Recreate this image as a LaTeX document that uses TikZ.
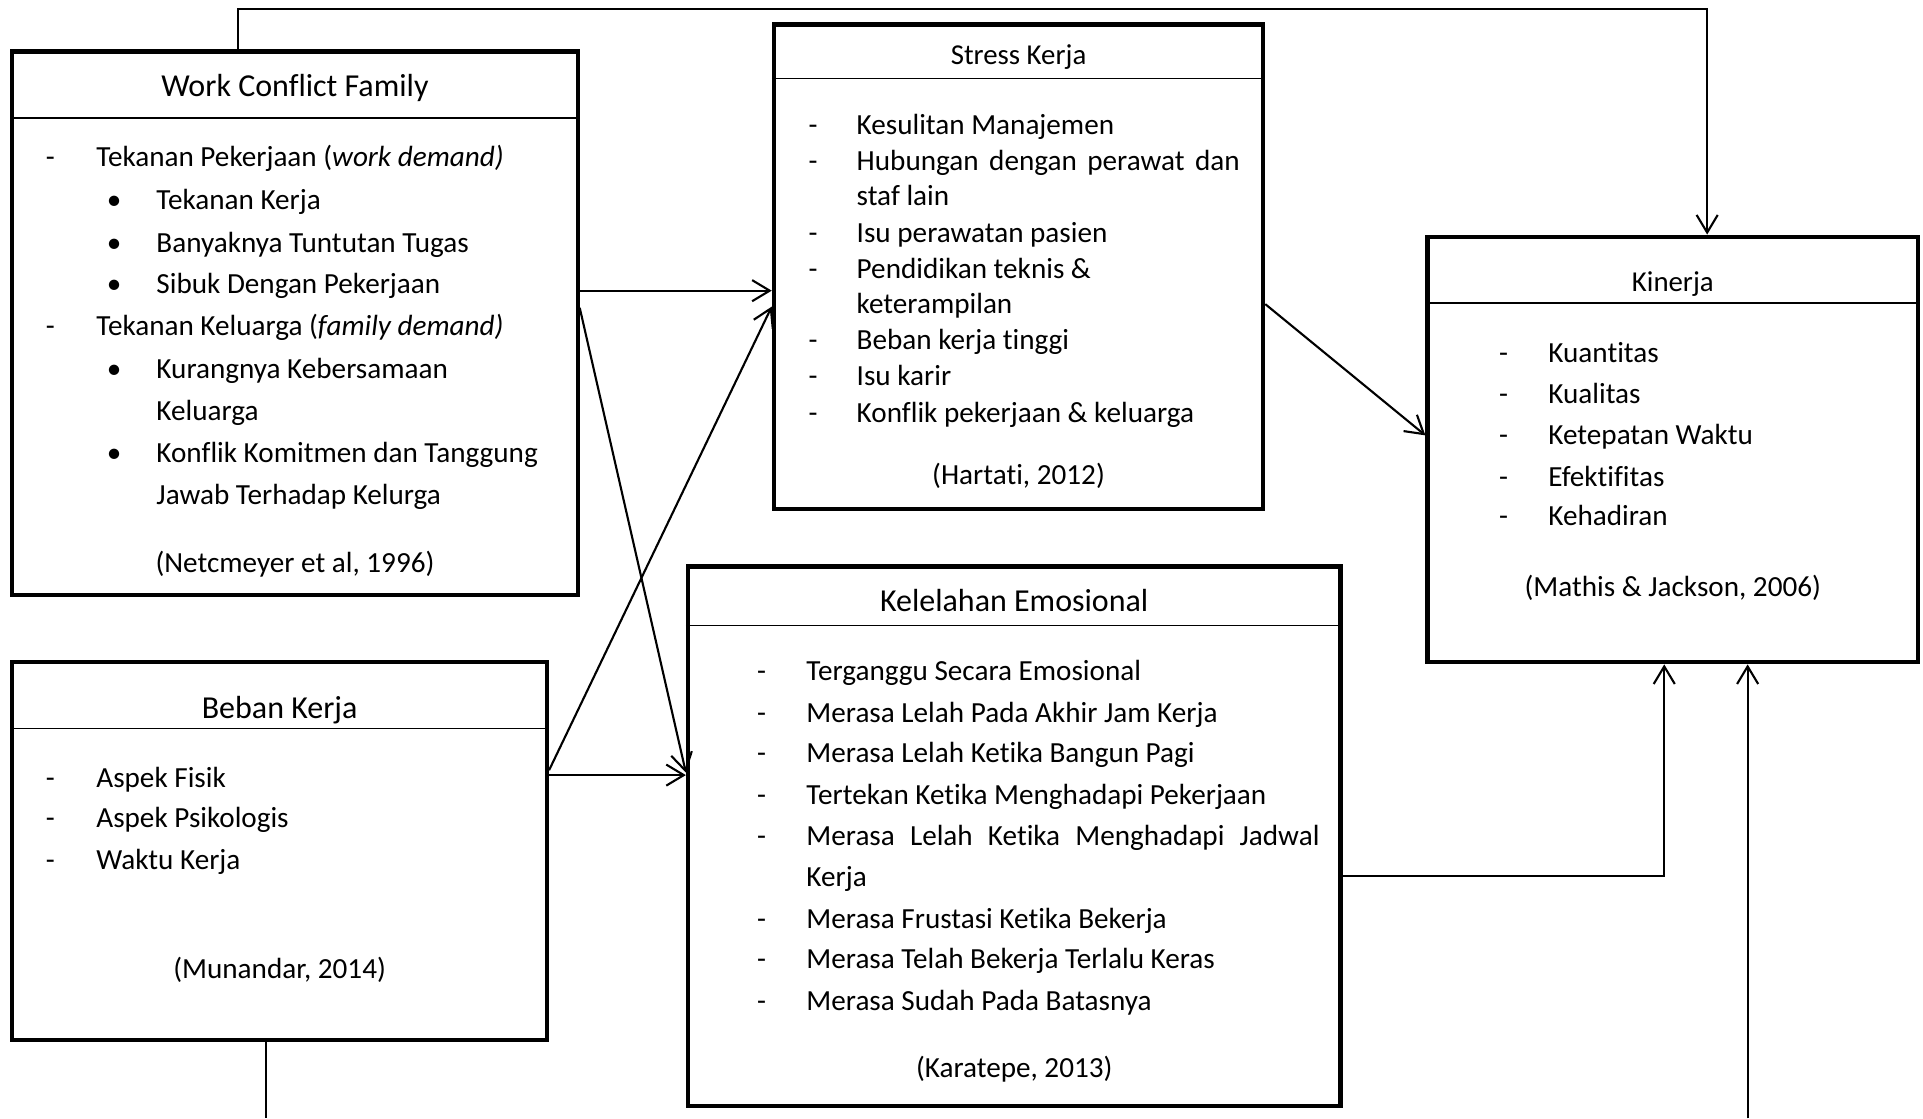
\documentclass[tikz,border=0pt]{standalone}
\usepackage{fontspec}
\setmainfont{Carlito}[Ligatures={NoCommon}]
\usepackage{tikz}
\usetikzlibrary{arrows.meta,fit,positioning}
\tikzstyle{kotak}=[draw, line width=1.2pt, inner sep=0pt]
\tikzstyle{garis}=[line width=0.45pt]
\tikzstyle{hubung}=[line width=0.6pt]
\tikzstyle{panah}=[line width=0.6pt, -{Straight Barb[length=5pt,width=6pt]}]
\tikzstyle{judul}=[font=\fontsize{9.1}{11}\selectfont, anchor=base, inner sep=0pt, yshift=-0.6pt]
\tikzstyle{judulkecil}=[font=\fontsize{8.2}{10}\selectfont, anchor=base, inner sep=0pt, yshift=-0.6pt]
\tikzstyle{isi}=[font=\fontsize{8.3}{10}\selectfont, anchor=base west, inner sep=0pt, yshift=-0.6pt]
\tikzstyle{tanda}=[font=\fontsize{8.3}{10}\selectfont, anchor=base, inner sep=0pt, yshift=-0.6pt]
\tikzstyle{sumber}=[font=\fontsize{8.3}{10}\selectfont, anchor=base, inner sep=0pt, yshift=-0.6pt]
% #1 name, #2 mark x, #3 text x, #4 baseline y, #5 text
\newcommand{\butir}[5]{
	\node[tanda] (#1-d) at (#2,#4) {-};
	\node[isi] (#1) at (#3,#4) {#5};
}
\newcommand{\bulet}[5]{
	\node[tanda] (#1-d) at (#2,#4) {\textbullet};
	\node[isi] (#1) at (#3,#4) {#5};
}

\begin{document}
\begin{tikzpicture}[x=0.12264mm, y=-0.12264mm]
	\useasboundingbox (0,0) rectangle (1568,912);

	% Work Conflict Family
	\node[kotak, fit={(10,42) (471,485)}] (wcf) {};
	\draw[garis] (wcf.west |- 0,96) -- (wcf.east |- 0,96);
	\node[judul] (wcf-t) at (wcf.center |- 0,77) {Work Conflict Family};
	\butir{wcf1}{41}{78}{134}{Tekanan Pekerjaan (\textit{work demand)}}
	\bulet{wcf2}{93}{127}{169}{Tekanan Kerja}
	\bulet{wcf3}{93}{127}{204}{Banyaknya Tuntutan Tugas}
	\bulet{wcf4}{93}{127}{238}{Sibuk Dengan Pekerjaan}
	\butir{wcf5}{41}{78}{272}{Tekanan Keluarga (\textit{family demand)}}
	\bulet{wcf6}{93}{127}{307}{Kurangnya Kebersamaan}
	\node[isi] (wcf7) at (127,341) {Keluarga};
	\bulet{wcf8}{93}{127}{375}{Konflik Komitmen dan Tanggung}
	\node[isi] (wcf9) at (127,410) {Jawab Terhadap Kelurga};
	\node[sumber] (wcf-s) at (wcf.center |- 0,465) {(Netcmeyer et al, 1996)};

	% Stress Kerja
	\node[kotak, fit={(631,20) (1030,415)}] (sk) {};
	\draw[garis] (sk.west |- 0,64) -- (sk.east |- 0,64);
	\node[judulkecil] (sk-t) at (sk.center |- 0,51) {Stress Kerja};
	\butir{sk1}{663}{698}{108}{Kesulitan Manajemen}
	\butir{sk2}{663}{698}{137}{\makebox[38.3mm][s]{Hubungan dengan perawat dan}}
	\node[isi] (sk3) at (698,166) {staf lain};
	\butir{sk4}{663}{698}{196}{Isu perawatan pasien}
	\butir{sk5}{663}{698}{225}{Pendidikan teknis \&}
	\node[isi] (sk6) at (698,254) {keterampilan};
	\butir{sk7}{663}{698}{283}{Beban kerja tinggi}
	\butir{sk8}{663}{698}{313}{Isu karir}
	\butir{sk9}{663}{698}{343}{Konflik pekerjaan \& keluarga}
	\node[sumber] (sk-s) at (sk.center |- 0,393) {(Hartati, 2012)};

	% Kinerja
	\node[kotak, fit={(1164,193) (1564,540)}] (kin) {};
	\draw[garis] (kin.west |- 0,247) -- (kin.east |- 0,247);
	\node[judulkecil] (kin-t) at (kin.center |- 0,236) {Kinerja};
	\butir{kin1}{1226}{1262}{294}{Kuantitas}
	\butir{kin2}{1226}{1262}{327}{Kualitas}
	\butir{kin3}{1226}{1262}{361}{Ketepatan Waktu}
	\butir{kin4}{1226}{1262}{395}{Efektifitas}
	\butir{kin5}{1226}{1262}{427}{Kehadiran}
	\node[sumber] (kin-s) at (kin.center |- 0,485) {(Mathis \& Jackson, 2006)};

	% Beban Kerja
	\node[kotak, fit={(10,540) (446,848)}] (bk) {};
	\draw[garis] (bk.west |- 0,594) -- (bk.east |- 0,594);
	\node[judul] (bk-t) at (bk.center |- 0,584) {Beban Kerja};
	\butir{bk1}{41}{78}{640}{Aspek Fisik}
	\butir{bk2}{41}{78}{673}{Aspek Psikologis}
	\butir{bk3}{41}{78}{707}{Waktu Kerja}
	\node[sumber] (bk-s) at (bk.center |- 0,796) {(Munandar, 2014)};

	% Kelelahan Emosional
	\node[kotak, fit={(561,462) (1093,902)}] (ke) {};
	\draw[garis] (ke.west |- 0,510) -- (ke.east |- 0,510);
	\node[judul] (ke-t) at (ke.center |- 0,497) {Kelelahan Emosional};
	\butir{ke1}{621}{657}{553}{Terganggu Secara Emosional}
	\butir{ke2}{621}{657}{587}{Merasa Lelah Pada Akhir Jam Kerja}
	\butir{ke3}{621}{657}{620}{Merasa Lelah Ketika Bangun Pagi}
	\butir{ke4}{621}{657}{654}{Tertekan Ketika Menghadapi Pekerjaan}
	\butir{ke5}{621}{657}{688}{\makebox[51.3mm][s]{Merasa Lelah Ketika Menghadapi Jadwal}}
	\node[isi] (ke6) at (657,721) {Kerja};
	\butir{ke7}{621}{657}{755}{Merasa Frustasi Ketika Bekerja}
	\butir{ke8}{621}{657}{788}{Merasa Telah Bekerja Terlalu Keras}
	\butir{ke9}{621}{657}{822}{Merasa Sudah Pada Batasnya}
	\node[sumber] (ke-s) at (ke.center |- 0,877) {(Karatepe, 2013)};

	% connectors
	\coordinate (atas) at (1392,7);
	\coordinate (bawah1) at (217,912);
	\coordinate (bawah2) at (1425,912);
	\draw[panah] (wcf.north -| 194,0) |- (atas) -- (kin.north -| atas);
	\draw[panah] (wcf.east |- 0,237) -- (sk.west |- 0,237);
	\draw[panah] (wcf.east |- 0,251) -- (ke.west |- 0,630);
	\draw[panah] (bk.east |- 0,628) -- (sk.west |- 0,250);
	\draw[panah] (bk.east |- 0,632) -- (ke.west |- 0,632);
	\draw[panah] (sk.east |- 0,248) -- (kin.west |- 0,355);
	\draw[panah] (ke.east |- 0,714) -| (kin.south -| 1357,0);
	\draw[panah] (bawah2) -- (kin.south -| bawah2);
	\draw[hubung] (bk.south -| bawah1) -- (bawah1);
\end{tikzpicture}
\end{document}
